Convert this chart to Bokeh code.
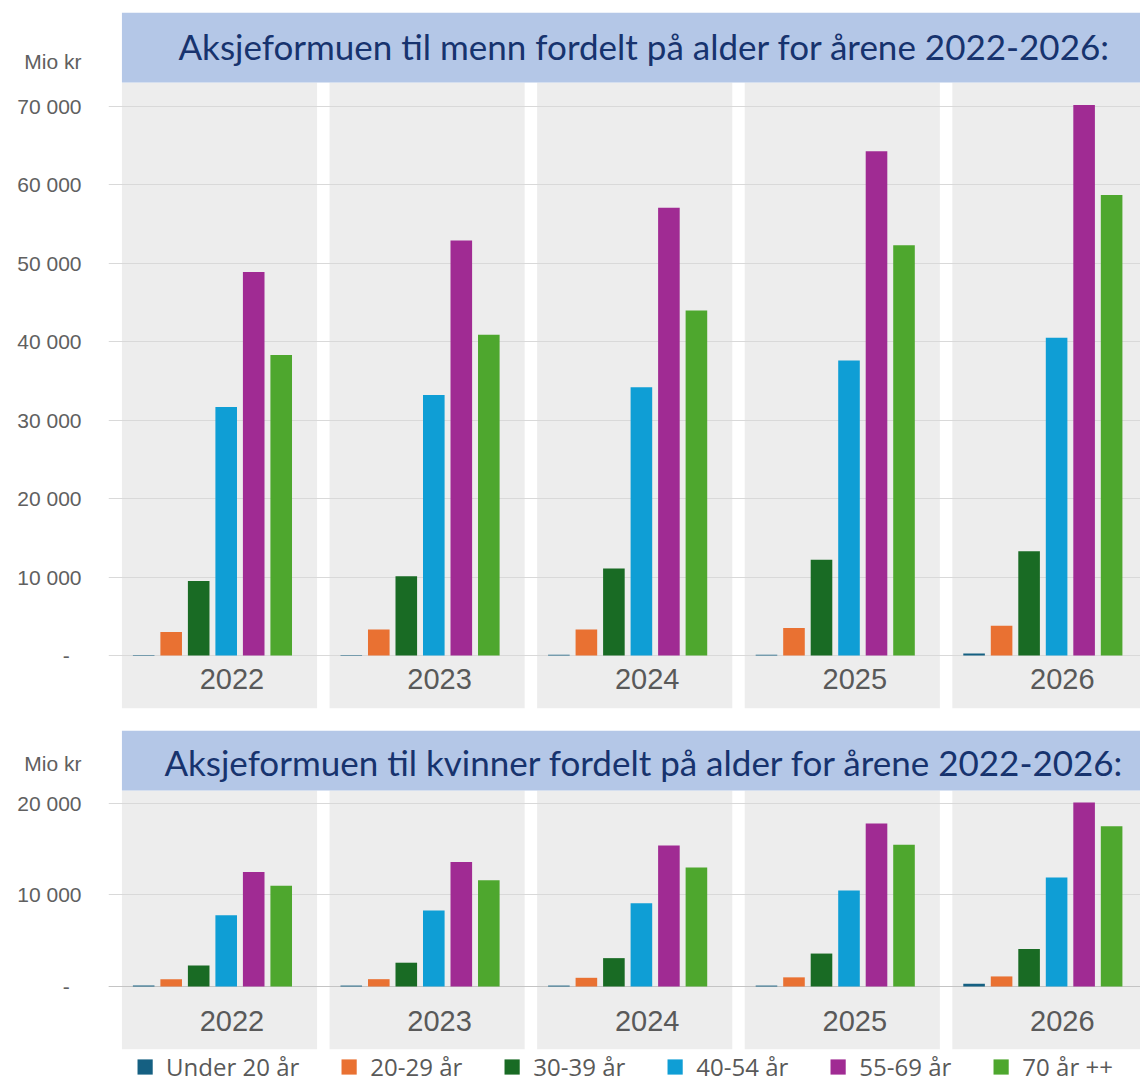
import numpy as np
from bokeh.plotting import figure
from bokeh.models import (Range1d, FixedTicker, Label, BoxAnnotation, Legend,
                          LegendItem, Span)
from bokeh.layouts import column
from bokeh.embed import file_html
from bokeh.resources import INLINE
from bokeh.core.properties import value

# ---------------- data ----------------
years = ["2022", "2023", "2024", "2025", "2026"]
age_groups = ["Under 20 år", "20-29 år", "30-39 år", "40-54 år", "55-69 år", "70 år ++"]
colors = ["#156082", "#E97132", "#196B24", "#0F9ED5", "#A02B93", "#4EA72E"]

men_under20 = [60, 70, 80, 100, 250]
men_20_29 = [3000, 3300, 3300, 3500, 3800]
men_30_39 = [9500, 10100, 11100, 12200, 13300]
men_40_54 = [31700, 33200, 34200, 37600, 40500]
men_55_69 = [48900, 52900, 57100, 64300, 70200]
men_70plus = [38300, 40900, 44000, 52300, 58700]

women_under20 = [100, 100, 100, 100, 300]
women_20_29 = [800, 800, 950, 1000, 1100]
women_30_39 = [2300, 2600, 3100, 3600, 4100]
women_40_54 = [7800, 8300, 9100, 10500, 11900]
women_55_69 = [12500, 13600, 15400, 17800, 20100]
women_70plus = [11000, 11600, 13000, 15500, 17500]

men_ticks = [0, 10000, 20000, 30000, 40000, 50000, 60000, 70000]
women_ticks = [0, 10000, 20000]

men_title = "Aksjeformuen til menn fordelt på alder for årene 2022-2026:"
women_title = "Aksjeformuen til kvinner fordelt på alder for årene 2022-2026:"
unit_label = "Mio kr"

# ---------------- layout constants ----------------
X_START, X_END = -0.5347, 4.4364
PANEL_W = 0.94
GROUP_OFF = -0.034
STEP = 0.1325
BAR_W = 0.104
YEAR_OFF = 0.060
TITLE_X = 2.047

TITLE_FONT = "Lato"
TITLE_COLOR = "#17336E"
BAND_COLOR = "#B4C7E7"
PANEL_COLOR = "#EDEDED"
GRID_COLOR = "#D9D9D9"
TICK_COLOR = "#606060"


def fmt(v):
    if v == 0:
        return "-\u00a0\u00a0"
    return f"{v:,}".replace(",", " ")


def make_chart(title, series, ticks, y0, y_band, y1, frame_h, mbt, mbb,
               year_y, title_y, unit_y, with_legend):
    idx = np.arange(len(years))
    p = figure(frame_width=1032, frame_height=frame_h,
               x_range=Range1d(X_START, X_END), y_range=Range1d(y0, y1),
               x_axis_location=None, y_axis_location="left",
               toolbar_location=None, output_backend="svg",
               min_border_left=108, min_border_right=0,
               min_border_top=mbt, min_border_bottom=mbb,
               outline_line_color=None, background_fill_color="white",
               border_fill_color="white")

    # gray year panels
    p.vbar(x=idx, width=PANEL_W, bottom=y0, top=y_band,
           fill_color=PANEL_COLOR, line_color=None, level="image")

    # title band
    p.add_layout(BoxAnnotation(left=-PANEL_W / 2, bottom=y_band,
                               fill_color=BAND_COLOR, fill_alpha=1.0,
                               line_color=None))
    p.add_layout(Label(x=TITLE_X, y=title_y, text=title, text_align="center",
                       text_baseline="middle", text_font=TITLE_FONT,
                       text_font_size="35px", text_color=TITLE_COLOR))

    # bars
    renderers = []
    for k, vals in enumerate(series):
        r = p.vbar(x=idx + GROUP_OFF + (k - 2.5) * STEP, top=vals, bottom=0,
                   width=BAR_W, fill_color=colors[k], line_color=None)
        renderers.append(r)

    # year labels
    p.text(x=idx + YEAR_OFF, y=[year_y] * len(years), text=years,
           text_font=value("Liberation Sans"), text_font_size=value("29px"),
           text_color="#595959", text_align="center", text_baseline="middle")

    # grid & axis (unit label "Mio kr" carried as an extra tick at the band)
    p.xgrid.grid_line_color = None
    p.ygrid.ticker = FixedTicker(ticks=ticks)
    p.ygrid.grid_line_color = GRID_COLOR
    ax = p.yaxis[0]
    ax.ticker = FixedTicker(ticks=list(ticks) + [unit_y])
    overrides = {t: fmt(t) for t in ticks}
    overrides[unit_y] = unit_label
    ax.major_label_overrides = overrides
    ax.axis_line_color = None
    ax.major_tick_line_color = None
    ax.minor_tick_line_color = None
    ax.major_tick_out = 0
    ax.major_tick_in = 0
    ax.major_label_standoff = 27
    ax.major_label_text_font = "Liberation Sans"
    ax.major_label_text_font_size = "21px"
    ax.major_label_text_color = TICK_COLOR

    if with_legend:
        p.add_layout(Span(location=0, dimension="width", line_color="#C4C4C4",
                          line_width=1, level="underlay"))
        items = [LegendItem(label=age_groups[k], renderers=[renderers[k]])
                 for k in range(len(age_groups))]
        leg = Legend(items=items, orientation="horizontal", location="top_center",
                     border_line_color=None, background_fill_alpha=0,
                     label_text_font="Open Sans", label_text_font_size="24px",
                     label_text_color="#595959", glyph_width=19, glyph_height=19,
                     label_standoff=12, spacing=40, padding=4, margin=1)
        p.add_layout(leg, "below")
    return p


men_series = [men_under20, men_20_29, men_30_39, men_40_54, men_55_69, men_70plus]
women_series = [women_under20, women_20_29, women_30_39, women_40_54, women_55_69, women_70plus]

top = make_chart(men_title, men_series, men_ticks,
                 y0=-6758, y_band=73060, y1=81985, frame_h=696, mbt=12, mbb=10,
                 year_y=-2933, title_y=77650, unit_y=75738, with_legend=False)
bottom = make_chart(women_title, women_series, women_ticks,
                    y0=-6885, y_band=21420, y1=27977, frame_h=319, mbt=12, mbb=0,
                    year_y=-3716, title_y=24480, unit_y=24316, with_legend=True)

layout = column(top, bottom, spacing=0)
open("out.html", "w").write(file_html(layout, INLINE))
